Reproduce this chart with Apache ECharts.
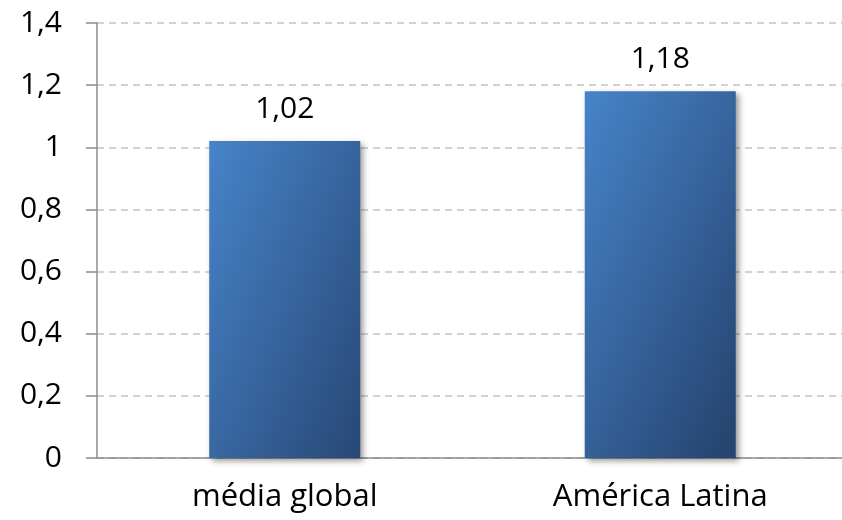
<!DOCTYPE html>
<html>
<head>
<meta charset="utf-8">
<script src="https://cdn.jsdelivr.net/npm/echarts@6/dist/echarts.min.js"></script>
<style>
  html, body { margin: 0; padding: 0; background: #fff; }
  #chart { width: 842px; height: 520px; }
</style>
</head>
<body>
<div id="chart"></div>
<script>
const categories = ["média global", "América Latina"];
const values = [1.02, 1.18];

const fmt = (v) => String(Math.round(v * 100) / 100).replace(".", ",");

const chart = echarts.init(document.getElementById("chart"));

// gradiente diagonal "estilo Office": claro no canto sup. esquerdo, escuro no inf. direito
const barFill = new echarts.graphic.LinearGradient(0, 0, 1.67, 0.33, [
  { offset: 0, color: "#4784ca" },
  { offset: 1, color: "#264571" },
]);

const option = {
  animation: false,
  textStyle: { fontFamily: "Open Sans" },
  grid: {
    left: 97,
    top: 23,
    width: 751,
    height: 435,
    outerBoundsMode: "none",
  },
  xAxis: {
    type: "category",
    data: categories,
    axisLine: { lineStyle: { color: "#8c8c8c", width: 1.5 } },
    axisTick: { length: 11, lineStyle: { color: "#8c8c8c", width: 1.5 } },
    axisLabel: { fontSize: 31, color: "#000", margin: 24 },
  },
  yAxis: {
    type: "value",
    min: 0,
    max: 1.4,
    interval: 0.2,
    axisLine: { show: true, lineStyle: { color: "#8c8c8c", width: 1.5 } },
    axisTick: { show: true, length: 11, lineStyle: { color: "#8c8c8c", width: 1.5 } },
    axisLabel: { fontSize: 30, color: "#000", margin: 35, formatter: fmt },
    splitLine: { lineStyle: { color: "#c4c4c4", type: [7, 5], width: 1.5 } },
  },
  series: [
    {
      type: "bar",
      data: values,
      barWidth: 151,
      itemStyle: {
        color: barFill,
        shadowColor: "rgba(0,0,0,0.4)",
        shadowBlur: 6,
        shadowOffsetX: 3,
        shadowOffsetY: 3,
      },
      label: {
        show: true,
        position: "top",
        distance: 17,
        fontSize: 30,
        color: "#000",
        formatter: (p) => fmt(p.value),
      },
    },
  ],
};

chart.setOption(option);
</script>
</body>
</html>
